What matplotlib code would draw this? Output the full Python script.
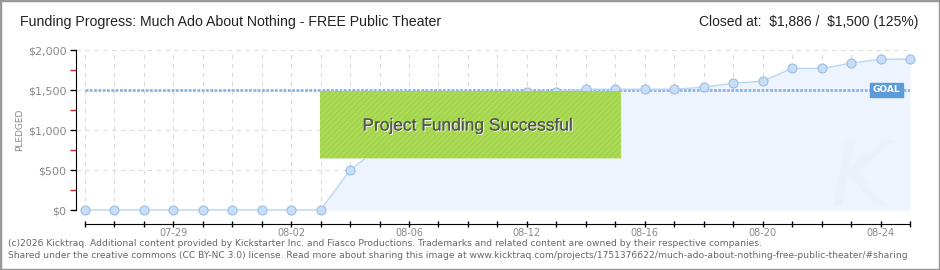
import matplotlib
matplotlib.use("Agg")
import matplotlib.pyplot as plt
from matplotlib.patches import Rectangle
from matplotlib.ticker import MultipleLocator, FuncFormatter
import matplotlib.patheffects as pe

# daily pledge totals (kicktraq skipped a couple of days in early August)
dates = ["07-26", "07-27", "07-28", "07-29", "07-30", "07-31", "08-01", "08-02",
         "08-03", "08-04", "08-05", "08-06", "08-07", "08-09", "08-11", "08-12",
         "08-13", "08-14", "08-15", "08-16", "08-17", "08-18", "08-19", "08-20",
         "08-21", "08-22", "08-23", "08-24", "08-25"]
pledged = [0, 0, 0, 0, 0, 0, 0, 0,
           0, 500, 780, 1150, 1150, 1180, 1185, 1470,
           1480, 1510, 1510, 1510, 1510, 1535, 1585, 1610,
           1770, 1770, 1835, 1885, 1886]
goal = 1500
shown_labels = ["07-29", "08-02", "08-06", "08-12", "08-16", "08-20", "08-24"]

W, H = 940, 270
fig = plt.figure(figsize=(W / 100, H / 100), dpi=100)
fig.patch.set_facecolor("white")
narrow = ["Liberation Sans", "DejaVu Sans"]

ax = fig.add_axes([76 / W, 1 - 210 / H, 834 / W, 160 / H])
x = list(range(len(dates)))

ax.fill_between(x, pledged, 0, color="#edf4fd", zorder=1, lw=0)
ax.plot(x, pledged, color="#b9d6f4", lw=1, marker="o", ms=6.5,
        mfc="#c6defa", mec="#9dbde0", mew=0.8, zorder=4, clip_on=False)
ax.hlines(goal, 0, len(x) - 1, colors="#8ab4e4", lw=2.0,
          linestyles=(0, (1.0, 0.55)), zorder=3)
ax.annotate("GOAL", xy=(len(x) - 1, goal), xytext=(-7, 0), textcoords="offset points",
            ha="right", va="center", fontsize=6.5, color="white", fontweight="bold",
            bbox=dict(boxstyle="square,pad=0.3", fc="#5b9bd9", ec="#5b9bd9"), zorder=6)

ax.set_xlim(-0.3, len(x) - 1)
ax.set_ylim(0, 2000)
ax.set_xticks(x)
ax.set_xticklabels([d if d in shown_labels else "" for d in dates])
ax.yaxis.set_major_locator(MultipleLocator(500))
ax.yaxis.set_minor_locator(MultipleLocator(250))
ax.yaxis.set_major_formatter(FuncFormatter(lambda v, p: "\\$" + format(int(v), ",")))
ax.grid(True, color="#dcdcdc", ls=(0, (4, 4)), lw=0.8, zorder=0)
ax.set_axisbelow(True)

for s in ["top", "right"]:
    ax.spines[s].set_visible(False)
ax.spines["bottom"].set_position(("outward", 10))
ax.spines["bottom"].set_bounds(0, len(x) - 1)
ax.tick_params(axis="x", direction="inout", length=4, width=1, colors="black",
               labelcolor="#888888", labelsize=7, pad=1)
ax.tick_params(axis="y", which="major", length=4, width=1, labelcolor="#888888",
               labelsize=8, pad=3)
ax.tick_params(axis="y", which="minor", length=4, width=1, color="#dd2222")

# watermark
ax.text(26.3, 380, "K", fontsize=64, color="#e9f1fb", style="italic",
        ha="center", va="center", zorder=1)

# success overlay
fig.add_artist(Rectangle((320 / W, 1 - 158 / H), 301 / W, 67 / H, transform=fig.transFigure,
                         facecolor="#a6da4c", edgecolor="#9fd044", hatch="//////",
                         alpha=0.93, lw=0, zorder=10))
fig.add_artist(Rectangle((320 / W, 1 - 159 / H), 301 / W, 1.5 / H, transform=fig.transFigure,
                         facecolor="#d6e9b0", lw=0, zorder=10))
fig.text(468 / W, 1 - 126 / H, "Project Funding Successful", fontsize=12.5, color="#555555",
         family=narrow, ha="center", va="center", zorder=11,
         path_effects=[pe.withSimplePatchShadow(offset=(0.7, -0.7), shadow_rgbFace="white", alpha=1),
                       pe.Normal()])

fig.text(20 / W, 1 - 22 / H, "Funding Progress: Much Ado About Nothing - FREE Public Theater",
         fontsize=10.2, color="#222222", family=narrow, va="center", ha="left")
fig.text(918 / W, 1 - 22 / H, "Closed at:  \\$1,886 /  \\$1,500 (125%)",
         fontsize=10.0, color="#222222", family=narrow, va="center", ha="right")
fig.text(20 / W, 1 - 130 / H, "PLEDGED", rotation=90, fontsize=6.5, color="#888888",
         ha="center", va="center")

fig.text(8 / W, 1 - 243 / H,
         "(c)2026 Kicktraq. Additional content provided by Kickstarter Inc. and Fiasco Productions. "
         "Trademarks and related content are owned by their respective companies.",
         fontsize=6.6, color="#666666", va="center")
fig.text(8 / W, 1 - 256 / H,
         "Shared under the creative commons (CC BY-NC 3.0) license. Read more about sharing this image at "
         "www.kicktraq.com/projects/1751376622/much-ado-about-nothing-free-public-theater/#sharing",
         fontsize=6.6, color="#666666", va="center")

fig.add_artist(Rectangle((0, 0), 1, 1, transform=fig.transFigure, fill=False,
                         edgecolor="#999999", lw=2.5))

fig.savefig("out.png", dpi=100)
